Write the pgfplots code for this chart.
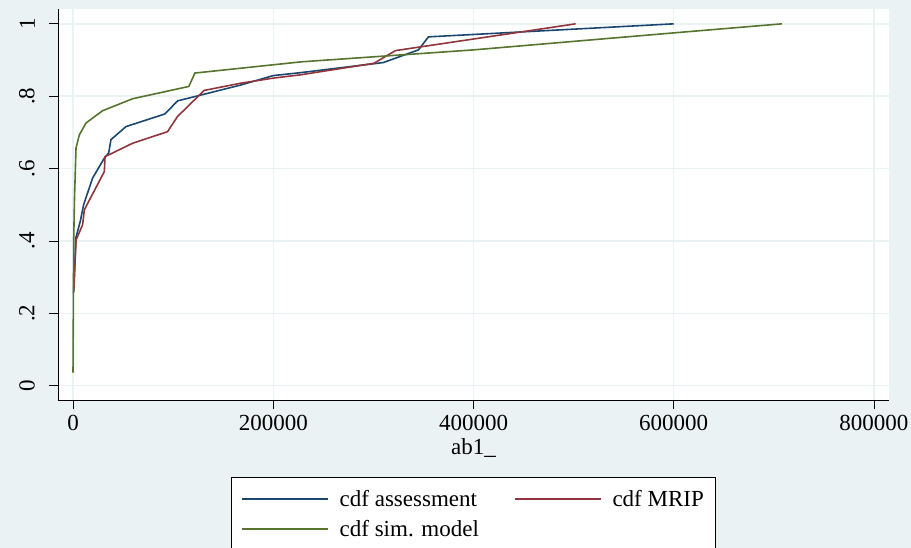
\documentclass[border=0pt]{standalone}
\usepackage{pgfplots}
\pgfplotsset{compat=1.18}
\usepackage{fontspec}
\setmainfont{Liberation Serif}
\definecolor{bgc}{RGB}{234,242,243}
\definecolor{snavy}{RGB}{26,71,111}
\definecolor{smaroon}{RGB}{144,53,59}
\definecolor{sgreen}{RGB}{85,117,47}
\newcommand{\bigf}{\fontsize{23bp}{27bp}\selectfont}
\begin{document}
\begin{tikzpicture}
\path[fill=bgc,use as bounding box] (-58bp,-148bp) rectangle (853bp,400bp);
\clip (-58bp,-148bp) rectangle (853bp,400bp);
\begin{axis}[
  at={(0,0)}, anchor=south west,
  scale only axis, width=831bp, height=391bp,
  xmin=-15000, xmax=815000, ymin=-0.0395, ymax=1.041,
  axis x line*=bottom, axis y line*=left,
  axis line style={black, line width=0.8pt, -},
  axis background/.style={fill=white},
  scaled x ticks=false,
  xtick={0,200000,400000,600000,800000},
  xticklabels={0,200000,400000,600000,800000},
  ytick={0,0.2,0.4,0.6,0.8,1},
  yticklabels={0,.2,.4,.6,.8,1},
  tick align=outside, major tick length=9bp,
  tick style={black, line width=0.8pt},
  grid=major, major grid style={bgc, line width=1.5pt},
  /pgf/number format/assume math mode=true,
  ticklabel style={font=\bigf},
  xticklabel style={yshift=-3bp},
  yticklabel style={rotate=90, anchor=south, inner sep=0pt, yshift=14bp},
  xlabel={ab1\_}, xlabel style={font=\bigf, yshift=-1bp},
  legend columns=2,
  legend cell align=left,
  legend style={at={(0.5,-0.197)}, anchor=north, draw=black, line width=0.8pt,
    font=\bigf, inner xsep=10bp, inner ysep=11bp, row sep=8bp,
    /tikz/every odd column/.append style={column sep=9bp},
    /tikz/every even column/.append style={column sep=33bp}},
  legend image code/.code={\draw[#1, line width=1.6pt] (0bp,0bp) -- (86bp,0bp);},
  every axis plot/.append style={line width=1.6pt},
]
\addplot[snavy] coordinates {
(500,0.257)(3000,0.41)(7300,0.455)(10600,0.50)(14600,0.533)(19600,0.574)
(31300,0.629)(35600,0.643)(37900,0.68)(52900,0.716)(91800,0.751)(104400,0.787)
(167600,0.831)(200000,0.857)(227000,0.865)(310000,0.893)(345000,0.928)
(355000,0.964)(600000,1.0)};
\addlegendentry{cdf assessment}
\addplot[smaroon] coordinates {
(800,0.26)(3000,0.403)(4000,0.409)(9600,0.445)(11300,0.486)(31300,0.592)
(32000,0.633)(59500,0.670)(94400,0.702)(104400,0.744)(131000,0.816)
(167600,0.836)(200000,0.85)(227000,0.859)(300600,0.891)(322000,0.926)
(502000,1.0)};
\addlegendentry{cdf MRIP}
\addplot[sgreen] coordinates {
(0,0.036)(500,0.3)(800,0.42)(1500,0.52)(3000,0.657)(6300,0.693)(13000,0.726)
(29600,0.760)(59500,0.793)(115700,0.827)(121700,0.864)(228000,0.895)
(400000,0.928)(600000,0.975)(708000,1.0)};
\addlegendentry{cdf sim. model}
\end{axis}
\end{tikzpicture}
\end{document}
